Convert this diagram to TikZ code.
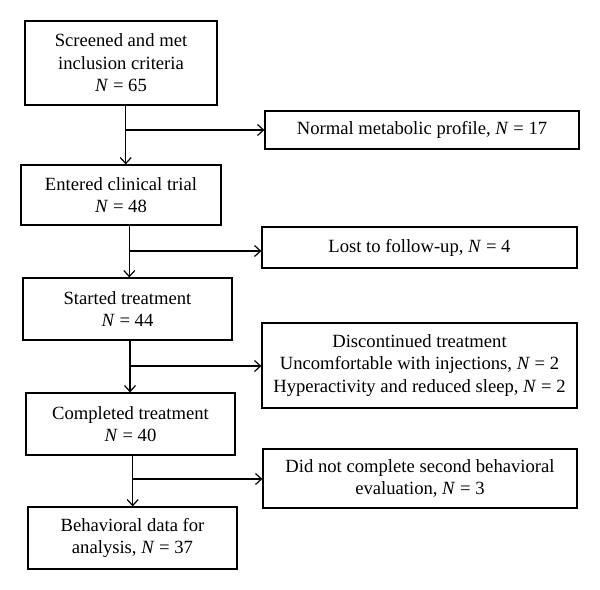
\documentclass[tikz,border=0pt]{standalone}
\usepackage{fontspec}
\setmainfont{Liberation Serif}
\usetikzlibrary{arrows.meta}

\begin{document}
\begin{tikzpicture}[x=1bp, y=-1bp,
        box/.style={draw, line width=1.2bp, align=center, inner sep=0pt, font=\fontsize{18.7}{22.5}\selectfont},
        arr/.style={-{Straight Barb[length=6bp, width=11bp]}, line width=1.2bp}]
        \useasboundingbox (0,0) rectangle (600,590);

        % main column
        \node[box, minimum width=192bp, minimum height=84bp] (screened) at (121,63) {Screened and met\\inclusion criteria\\\textit{N} = 65};
        \node[box, minimum width=200bp, minimum height=60bp] (entered) at (121,195) {Entered clinical trial\\\textit{N} = 48};
        \node[box, minimum width=209bp, minimum height=62bp] (started) at (127.5,309) {Started treatment\\\textit{N} = 44};
        \node[box, minimum width=209bp, minimum height=62bp] (completed) at (130.5,424) {Completed treatment\\\textit{N} = 40};
        \node[box, minimum width=209bp, minimum height=62bp] (analysis) at (132.5,538) {Behavioral data for\\analysis, \textit{N} = 37};

        % exclusions
        \node[box, minimum width=314bp, minimum height=38bp] (normal) at (422,130) {Normal metabolic profile, \textit{N} = 17};
        \node[box, minimum width=315bp, minimum height=41bp] (lost) at (419.5,247.5) {Lost to follow-up, \textit{N} = 4};
        \node[box, minimum width=315bp, minimum height=85bp] (discont) at (419.5,365.5) {Discontinued treatment\\Uncomfortable with injections, \textit{N} = 2\\Hyperactivity and reduced sleep, \textit{N} = 2};
        \node[box, minimum width=314bp, minimum height=59bp] (noeval) at (420,478.5) {Did not complete second behavioral\\evaluation, \textit{N} = 3};

        \coordinate (s1) at (125.7,130);
        \coordinate (s2) at (129.3,251);
        \coordinate (s3) at (130,366);
        \coordinate (s4) at (132.7,479);

        \draw[arr] (screened.south -| s1) -- (entered.north -| s1);
        \draw[arr] (s1) -- (s1 -| normal.west);
        \draw[arr] (entered.south -| s2) -- (started.north -| s2);
        \draw[arr] (s2) -- (s2 -| lost.west);
        \draw[arr] (started.south -| s3) -- (completed.north -| s3);
        \draw[arr] (s3) -- (s3 -| discont.west);
        \draw[arr] (completed.south -| s4) -- (analysis.north -| s4);
        \draw[arr] (s4) -- (s4 -| noeval.west);

    \end{tikzpicture}
\end{document}
